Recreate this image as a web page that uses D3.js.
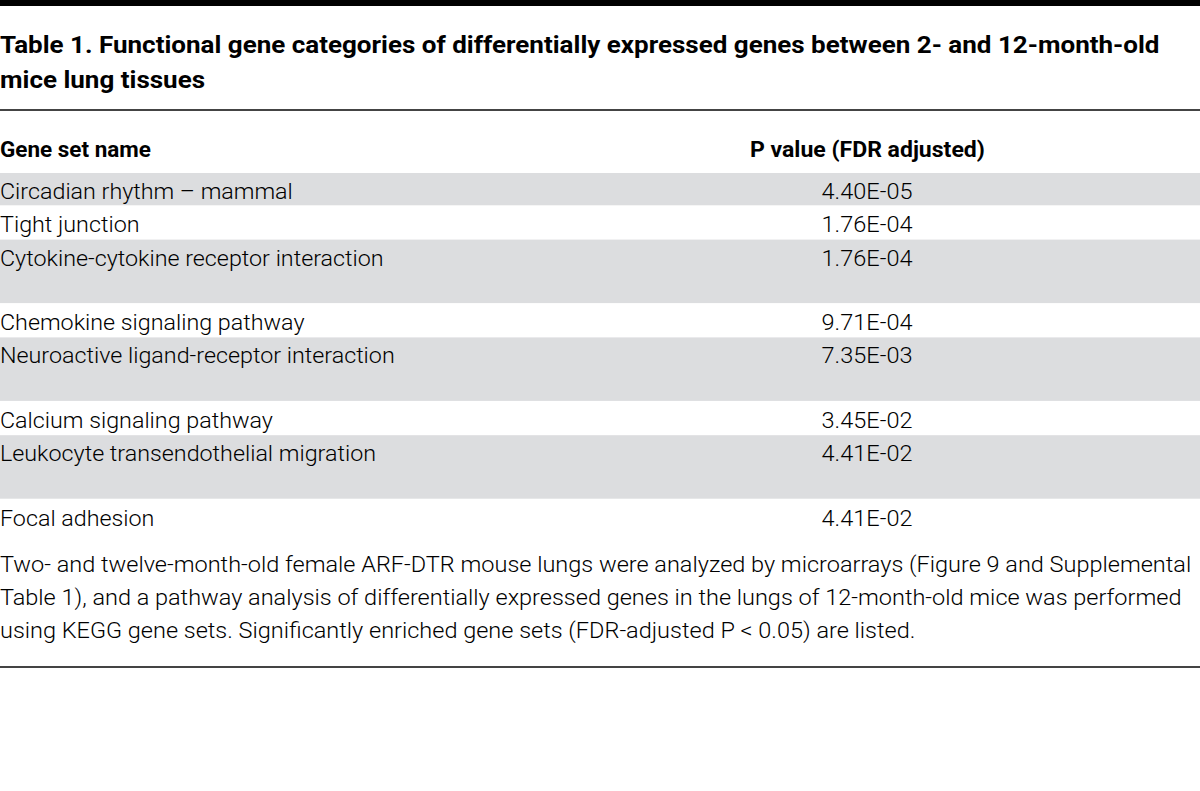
<!DOCTYPE html>
<html><head><meta charset="utf-8">
<script src="https://cdn.jsdelivr.net/npm/d3@7"></script>
<style>html,body{margin:0;padding:0;background:#fff;}</style>
</head><body>
<svg id="c" width="1200" height="791"></svg>
<script>
const titleLines = ["Table 1. Functional gene categories of differentially expressed genes between 2- and 12-month-old", "mice lung tissues"];
const columnHeaders = ["Gene set name", "P value (FDR adjusted)"];
const geneSets = ["Circadian rhythm \u2013 mammal", "Tight junction", "Cytokine-cytokine receptor interaction", "Chemokine signaling pathway", "Neuroactive ligand-receptor interaction", "Calcium signaling pathway", "Leukocyte transendothelial migration", "Focal adhesion"];
const pValues = ["4.40E-05", "1.76E-04", "1.76E-04", "9.71E-04", "7.35E-03", "3.45E-02", "4.41E-02", "4.41E-02"];
const rowLines = [1, 1, 2, 1, 2, 1, 2, 1];
const captionLines = ["Two- and twelve-month-old female ARF-DTR mouse lungs were analyzed by microarrays (Figure 9 and Supplemental", "Table 1), and a pathway analysis of differentially expressed genes in the lungs of 12-month-old mice was performed", "using KEGG gene sets. Significantly enriched gene sets (FDR-adjusted P < 0.05) are listed."];

const svg = d3.select("#c");
const FONT = "Roboto, 'Noto Sans', 'DejaVu Sans', sans-serif";

function fitGroup(g, refNode, target, x0) {
  const w = refNode.getComputedTextLength();
  const s = target / w;
  g.attr("transform", `translate(${x0},0) scale(${s},1)`);
  return s;
}

svg.append("rect").attr("x", 0).attr("y", 0).attr("width", 1200).attr("height", 6).attr("fill", "#000");

const tg = svg.append("g");
const tt = tg.selectAll("text").data(titleLines).join("text")
  .attr("x", 0).attr("y", (d, i) => 53 + i * 35)
  .attr("font-family", FONT).attr("font-weight", 700).attr("font-size", 24.5)
  .attr("fill", "#000").text(d => d);
fitGroup(tg, tt.nodes()[0], 1160, 0);

svg.append("rect").attr("x", 0).attr("y", 109).attr("width", 1200).attr("height", 2).attr("fill", "#444");

const single = 33.3, dbl = 64.5;
const rowTops = [];
let acc = 173;
rowLines.forEach(n => { rowTops.push(acc); acc += n === 1 ? single : dbl; });
const rowH = rowLines.map(n => n === 1 ? single : dbl);

svg.append("g").selectAll("rect").data(geneSets).join("rect")
  .attr("x", 0).attr("y", (d, i) => rowTops[i])
  .attr("width", 1200).attr("height", (d, i) => rowH[i] - 1)
  .attr("fill", (d, i) => i % 2 === 0 ? "#dcdddf" : "#fff");

const hg = svg.append("g");
const h1 = hg.append("text").attr("x", 0).attr("y", 157)
  .attr("font-family", FONT).attr("font-weight", 700).attr("font-size", 21.5).attr("fill", "#000").text(columnHeaders[0]);
fitGroup(hg, h1.node(), 151, 0);
const hg2 = svg.append("g");
const h2 = hg2.append("text").attr("x", 0).attr("y", 157)
  .attr("font-family", FONT).attr("font-weight", 700).attr("font-size", 21.5).attr("fill", "#000").text(columnHeaders[1]);
fitGroup(hg2, h2.node(), 235, 750);

const ng = svg.append("g");
const nt = ng.selectAll("text").data(geneSets).join("text")
  .attr("x", 0).attr("y", (d, i) => rowTops[i] + 26)
  .attr("font-family", FONT).attr("font-weight", 300).attr("font-size", 22)
  .attr("fill", "#000").text(d => d);
fitGroup(ng, nt.nodes()[4], 395, 0);

const vg = svg.append("g");
const vt = vg.selectAll("text").data(pValues).join("text")
  .attr("x", 0).attr("y", (d, i) => rowTops[i] + 26)
  .attr("text-anchor", "middle")
  .attr("font-family", FONT).attr("font-weight", 300).attr("font-size", 22)
  .attr("fill", "#000").text(d => d);
fitGroup(vg, vt.nodes()[0], 91, 867);

const cg = svg.append("g");
const ct = cg.selectAll("text").data(captionLines).join("text")
  .attr("x", 0).attr("y", (d, i) => 572.5 + i * 32.8)
  .attr("font-family", FONT).attr("font-weight", 300).attr("font-size", 22)
  .attr("fill", "#000").text(d => d);
fitGroup(cg, ct.nodes()[1], 1182, 0);

svg.append("rect").attr("x", 0).attr("y", 666).attr("width", 1200).attr("height", 2).attr("fill", "#444");
</script>
</body></html>
